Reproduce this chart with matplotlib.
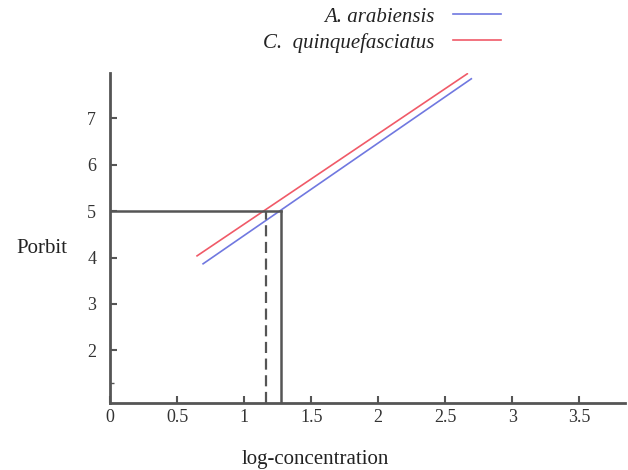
import numpy as np
import matplotlib
matplotlib.use("Agg")
from matplotlib import pyplot as plt

# probit regression lines (log-concentration vs probit)
arab_x = [0.694, 2.694]
arab_y = [3.866, 7.855]
quinq_x = [0.649, 2.664]
quinq_y = [4.037, 7.963]

# LC50 read-off lines
probit_50 = 5.0
lc50_quinq = 1.164   # dashed
lc50_arab = 1.276    # solid

x_ticks = [0, 0.5, 1, 1.5, 2, 2.5, 3, 3.5]
x_labels = ["0", "0.5", "1", "1.5", "2", "2.5", "3", "3.5"]
y_ticks = [2, 3, 4, 5, 6, 7]
y_labels = ["2", "3", "4", "5", "6", "7"]

plt.rcParams['font.family'] = ['Liberation Serif', 'DejaVu Serif']

fig = plt.figure(figsize=(6.28, 4.70), dpi=100)
ax = fig.add_axes([0.1752, 0.1426, 0.82, 0.7021])

blue = "#7078e0"
red = "#f05a68"
axc = "#555555"

l1, = ax.plot(arab_x, arab_y, color=blue, lw=1.2, label="A. arabiensis")
l2, = ax.plot(quinq_x, quinq_y, color=red, lw=1.2, label="C.  quinquefasciatus")

# guide lines for probit 5
ax.plot([0, lc50_arab], [probit_50, probit_50], color=axc, lw=1.8)
ax.plot([lc50_arab, lc50_arab], [0.865, probit_50], color=axc, lw=1.8)
ax.plot([lc50_quinq, lc50_quinq], [0.865, probit_50], color=axc, lw=1.6,
        linestyle=(0, (5, 2.5)))

ax.set_xlim(0, 3.84)
ax.set_ylim(0.865, 7.98)

for s in ["top", "right"]:
    ax.spines[s].set_visible(False)
for s in ["left", "bottom"]:
    ax.spines[s].set_color(axc)
    ax.spines[s].set_linewidth(2)

ax.set_xticks(x_ticks)
ax.set_xticklabels(x_labels)
ax.set_yticks(y_ticks)
ax.set_yticklabels(y_labels)
ax.set_yticks([1.30], minor=True)
ax.tick_params(direction="in", length=5, width=1.5, color=axc,
               labelsize=13, labelcolor="#333333")
ax.tick_params(axis="x", pad=4)
ax.tick_params(axis="y", pad=10)
ax.tick_params(which="minor", direction="in", length=3, width=1, color=axc)

fig.text(0.067, 0.472, "Porbit", fontsize=15, ha="center", va="center",
         color="#222222")
fig.text(0.502, 0.022, "log-concentration", fontsize=15, ha="center",
         va="center", color="#222222")

leg = fig.legend(handles=[l1, l2], loc="upper right",
                 bbox_to_anchor=(0.828, 1.025), frameon=False,
                 markerfirst=False, handlelength=2.3, handletextpad=0.9,
                 labelspacing=0.3, prop={"style": "italic", "size": 15})
for t in leg.get_texts():
    t.set_color("#222222")

fig.savefig("out.png", dpi=100)
